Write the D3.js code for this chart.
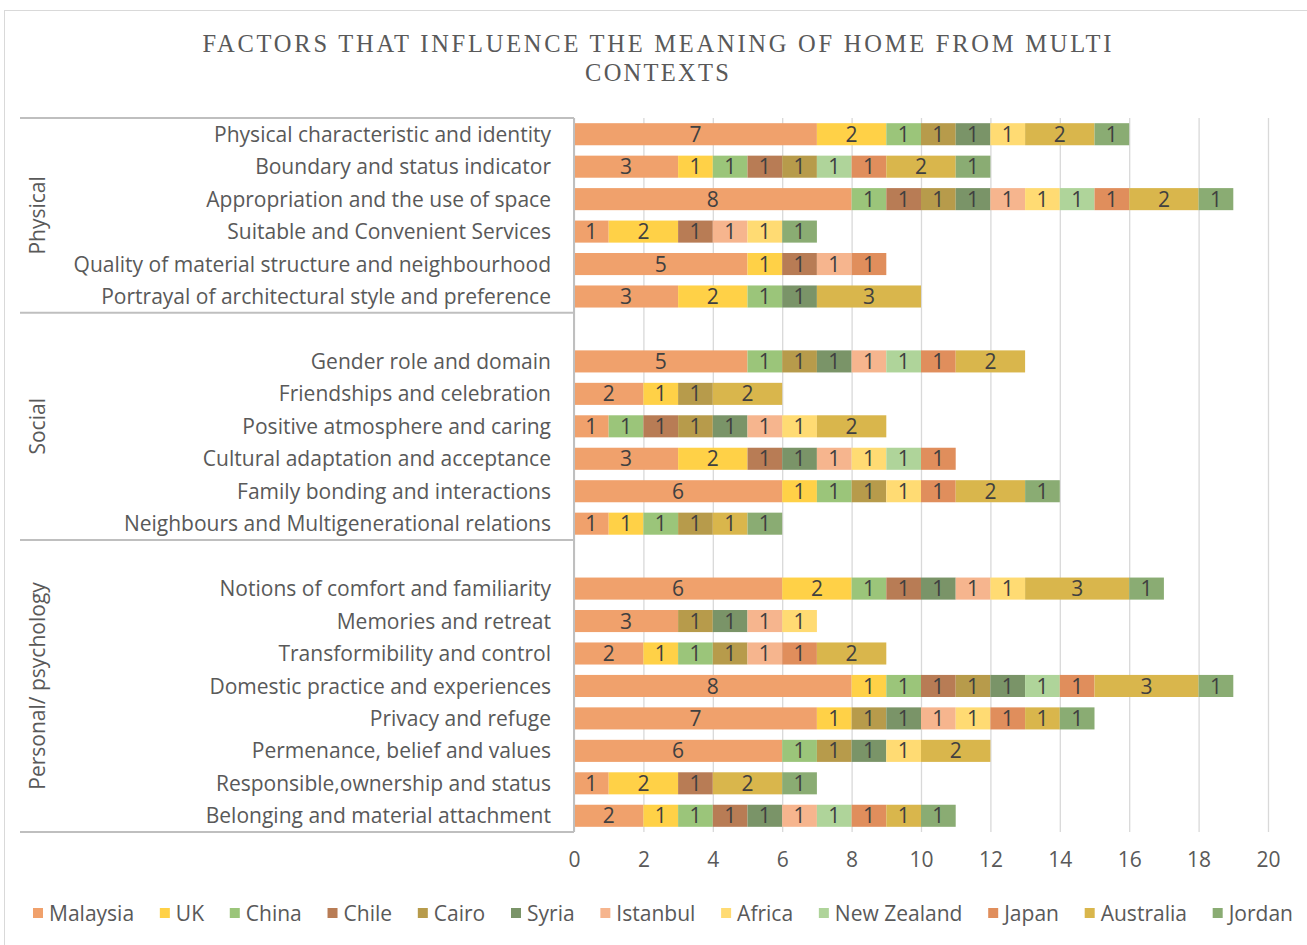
<!DOCTYPE html>
<html><head><meta charset="utf-8">
<script src="https://cdn.jsdelivr.net/npm/d3@7"></script>
<style>body{margin:0;background:#fff;} svg{display:block}</style>
</head><body>
<script>
// ---------- DATA ----------
const groups = ["Physical", "Social", "Personal/ psychology"];
const physicalFactors = [
  "Physical characteristic and identity",
  "Boundary and status indicator",
  "Appropriation and the use of space",
  "Suitable and Convenient Services",
  "Quality of material structure and neighbourhood",
  "Portrayal of architectural style and preference"
];
const socialFactors = [
  "Gender role and domain",
  "Friendships and celebration",
  "Positive atmosphere and caring",
  "Cultural adaptation and acceptance",
  "Family bonding and interactions",
  "Neighbours and Multigenerational relations"
];
const personalFactors = [
  "Notions of comfort and familiarity",
  "Memories and retreat",
  "Transformibility and control",
  "Domestic practice and experiences",
  "Privacy and refuge",
  "Permenance, belief and values",
  "Responsible,ownership and status",
  "Belonging and material attachment"
];
const seriesNames = ["Malaysia","UK","China","Chile","Cairo","Syria","Istanbul","Africa","New Zealand","Japan","Australia","Jordan"];
const seriesColors = ["#F0A16C","#FFD147","#9BC57A","#B87C55","#B79B4B","#7A9468","#F6B58E","#FFDB73","#AFD49A","#E08E5C","#D9B64C","#8AAC73"];
// values per series, in category order (physical, social, personal)
const malaysia   = [7,3,8,1,5,3, 5,2,1,3,6,1, 6,3,2,8,7,6,1,2];
const uk         = [2,1,0,2,1,2, 0,1,0,2,1,1, 2,0,1,1,1,0,2,1];
const china      = [1,1,1,0,0,1, 1,0,1,0,1,1, 1,0,1,1,0,1,0,1];
const chile      = [0,1,1,1,1,0, 0,0,1,1,0,0, 1,0,0,1,0,0,1,1];
const cairo      = [1,1,1,0,0,0, 1,1,1,0,1,1, 0,1,1,1,1,1,0,0];
const syria      = [1,0,1,0,0,1, 1,0,1,1,0,0, 1,1,0,1,1,1,0,1];
const istanbul   = [0,0,1,1,1,0, 1,0,1,1,0,0, 1,1,1,0,1,0,0,1];
const africa     = [1,0,1,1,0,0, 0,0,1,1,1,0, 1,1,0,0,1,1,0,0];
const newZealand = [0,1,1,0,0,0, 1,0,0,1,0,0, 0,0,0,1,0,0,0,1];
const japan      = [0,1,1,0,1,0, 1,0,0,1,1,0, 0,0,1,1,1,0,0,1];
const australia  = [2,2,2,0,0,3, 2,2,2,0,2,1, 3,0,2,3,1,2,2,1];
const jordan     = [1,1,1,1,0,0, 0,0,0,0,1,1, 1,0,0,1,1,0,1,1];
const xTicks = [0,2,4,6,8,10,12,14,16,18,20];
const titleLines = ["FACTORS THAT INFLUENCE THE MEANING OF HOME FROM MULTI", "CONTEXTS"];

// ---------- BUILD ----------
const seriesValues = [malaysia,uk,china,chile,cairo,syria,istanbul,africa,newZealand,japan,australia,jordan];
const factorGroups = [physicalFactors, socialFactors, personalFactors];
const categories = [].concat(...factorGroups);
const table = categories.map((c,i) => {
  const row = {category: c};
  seriesNames.forEach((s,k) => row[s] = seriesValues[k][i]);
  return row;
});
const slots = [];
const groupSlots = [];
factorGroups.forEach((g,gi) => {
  if (gi > 0) slots.push("__blank" + gi);
  g.forEach(c => slots.push(c));
  groupSlots.push({name: groups[gi], last: slots[slots.length-1]});
});

const W = 1307, H = 945;
const svg = d3.select("body").append("svg").attr("width", W).attr("height", H)
  .style("font-family", "'Open Sans', sans-serif");

// measure a font size that matches the reference label width
const probe = svg.append("text").style("font-size", "17px").text(physicalFactors[0]);
const FS = 17 * 337 / probe.node().getComputedTextLength();
probe.remove();
const fs = FS.toFixed(2) + "px";

svg.append("rect").attr("x", 4.5).attr("y", 10.5).attr("width", 1310).attr("height", 960)
  .attr("fill", "#fff").attr("stroke", "#D9D9D9").attr("stroke-width", 1);

const plotTop = 118, plotBottom = 832, plotLeft = 574, plotRight = 1268;
const x = d3.scaleLinear().domain([0, 20]).range([plotLeft, plotRight]);
const y = d3.scaleBand().domain(slots).range([plotTop, plotBottom]).paddingInner(0.32).paddingOuter(0.16);
const color = d3.scaleOrdinal().domain(seriesNames).range(seriesColors);

// title
const title = svg.append("g").attr("fill", "#595959")
  .style("font-family", "'Liberation Serif', 'Times New Roman', serif").style("font-size", "24.5px");
title.append("text").attr("x", 657).attr("y", 52).attr("text-anchor", "middle")
  .attr("textLength", 909).attr("lengthAdjust", "spacing").text(titleLines[0]);
title.append("text").attr("x", 657).attr("y", 81).attr("text-anchor", "middle")
  .attr("textLength", 144).attr("lengthAdjust", "spacing").text(titleLines[1]);

// gridlines
svg.append("g").attr("transform", `translate(0,${plotBottom})`)
  .call(d3.axisBottom(x).tickValues(xTicks).tickSize(-(plotBottom - plotTop)).tickFormat(""))
  .call(g => g.select(".domain").remove())
  .call(g => g.selectAll("line").attr("stroke", "#D9D9D9").attr("stroke-width", 1.3));

// x tick labels
svg.append("g").attr("transform", `translate(0,${plotBottom})`)
  .call(d3.axisBottom(x).tickValues(xTicks).tickSize(0).tickPadding(20))
  .call(g => g.select(".domain").remove())
  .call(g => g.selectAll("text").attr("fill", "#595959").style("font-size", fs)
    .style("font-family", "'Open Sans', sans-serif"));

// bars
const stacked = d3.stack().keys(seriesNames)(table);
const barG = svg.append("g");
stacked.forEach(layer => {
  const data = layer.filter(d => d[1] - d[0] > 0);
  const lg = barG.append("g");
  lg.selectAll("rect").data(data).join("rect")
    .attr("x", d => x(d[0])).attr("y", d => y(d.data.category))
    .attr("width", d => x(d[1]) - x(d[0])).attr("height", y.bandwidth())
    .attr("fill", color(layer.key));
  lg.selectAll("text").data(data).join("text")
    .attr("x", d => (x(d[0]) + x(d[1])) / 2)
    .attr("y", d => y(d.data.category) + y.bandwidth() / 2)
    .attr("dy", "0.36em").attr("text-anchor", "middle")
    .attr("fill", "#404040").style("font-size", fs)
    .text(d => d[1] - d[0]);
});

// category axis (multi-level)
const axG = svg.append("g").attr("stroke", "#BFBFBF").attr("stroke-width", 2);
axG.append("line").attr("x1", plotLeft).attr("x2", plotLeft).attr("y1", plotTop).attr("y2", plotBottom);
const sepYs = [plotTop];
groupSlots.forEach(gs => sepYs.push(y(gs.last) + y.bandwidth() + y.step() * y.paddingInner() / 2));
sepYs.forEach(sy => axG.append("line").attr("x1", 20).attr("x2", plotLeft).attr("y1", sy).attr("y2", sy));

const catG = svg.append("g").attr("fill", "#595959").style("font-size", fs);
catG.selectAll("text").data(categories).join("text")
  .attr("x", 551).attr("y", d => y(d) + y.bandwidth() / 2).attr("dy", "0.36em")
  .attr("text-anchor", "end").text(d => d);

const grpG = svg.append("g").attr("fill", "#595959").style("font-size", fs);
groupSlots.forEach((gs, i) => {
  const cy = (sepYs[i] + sepYs[i + 1]) / 2;
  grpG.append("text").attr("transform", `translate(37,${cy}) rotate(-90)`)
    .attr("text-anchor", "middle").attr("dy", "0.36em").text(gs.name);
});

// legend
const legG = svg.append("g").style("font-size", fs).attr("fill", "#595959");
const items = legG.selectAll("g").data(seriesNames).join("g");
items.append("rect").attr("width", 10).attr("height", 10).attr("y", -5).attr("fill", d => color(d));
items.append("text").attr("x", 16).attr("dy", "0.36em").text(d => d);
const widths = items.nodes().map(n => 16 + d3.select(n).select("text").node().getComputedTextLength());
const gap = (1293 - 33 - d3.sum(widths)) / (seriesNames.length - 1);
let cx = 33;
items.each(function(d, i) {
  d3.select(this).attr("transform", `translate(${cx},913)`);
  cx += widths[i] + gap;
});
</script>
</body></html>
